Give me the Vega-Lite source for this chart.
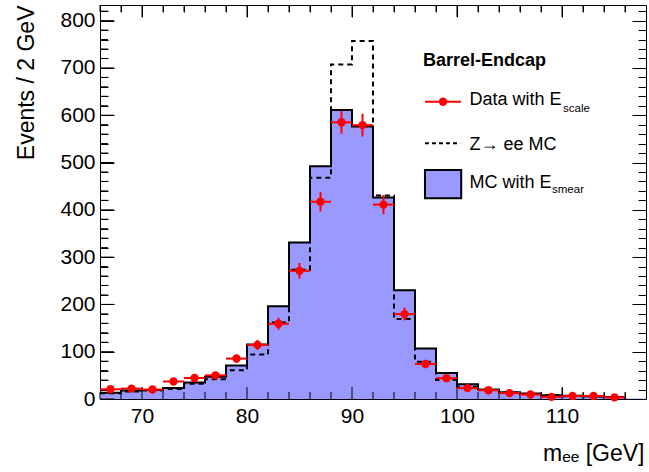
{
  "$schema": "https://vega.github.io/schema/vega-lite/v6.json",
  "autosize": {"type": "none"},
  "padding": {"left": 100, "top": 5, "right": 3, "bottom": 73},
  "width": 546,
  "height": 394,
  "background": "white",
  "data": {"values": [
    {"lo":66,"hi":68,"m":67,"mc":13,"zee":12,"data":20.5,"dlo":16,"dhi":25},
    {"lo":68,"hi":70,"m":69,"mc":18,"zee":16,"data":22,"dlo":17.3,"dhi":26.7},
    {"lo":70,"hi":72,"m":71,"mc":19,"zee":18,"data":20,"dlo":15.5,"dhi":24.5},
    {"lo":72,"hi":74,"m":73,"mc":23,"zee":21,"data":37,"dlo":30.9,"dhi":43.1},
    {"lo":74,"hi":76,"m":75,"mc":35,"zee":32,"data":44.5,"dlo":37.8,"dhi":51.2},
    {"lo":76,"hi":78,"m":77,"mc":47,"zee":42,"data":50,"dlo":42.9,"dhi":57.1},
    {"lo":78,"hi":80,"m":79,"mc":71,"zee":61,"data":85.5,"dlo":76.3,"dhi":94.7},
    {"lo":80,"hi":82,"m":81,"mc":115,"zee":94,"data":114.5,"dlo":103.8,"dhi":125.2},
    {"lo":82,"hi":84,"m":83,"mc":196,"zee":162,"data":159,"dlo":146.4,"dhi":171.6},
    {"lo":84,"hi":86,"m":85,"mc":331,"zee":273,"data":271,"dlo":254.5,"dhi":287.5},
    {"lo":86,"hi":88,"m":87,"mc":492,"zee":468,"data":417,"dlo":396.6,"dhi":437.4},
    {"lo":88,"hi":90,"m":89,"mc":611,"zee":707,"data":585,"dlo":560.8,"dhi":609.2},
    {"lo":90,"hi":92,"m":91,"mc":576,"zee":757,"data":579,"dlo":554.9,"dhi":603.1},
    {"lo":92,"hi":94,"m":93,"mc":426,"zee":430,"data":411,"dlo":390.7,"dhi":431.3},
    {"lo":94,"hi":96,"m":95,"mc":230,"zee":169,"data":179.5,"dlo":166.1,"dhi":192.9},
    {"lo":96,"hi":98,"m":97,"mc":107,"zee":79,"data":74,"dlo":65.4,"dhi":82.6},
    {"lo":98,"hi":100,"m":99,"mc":55,"zee":40,"data":44,"dlo":37.4,"dhi":50.6},
    {"lo":100,"hi":102,"m":101,"mc":31,"zee":26,"data":23,"dlo":18.2,"dhi":27.8},
    {"lo":102,"hi":104,"m":103,"mc":20,"zee":19,"data":18.5,"dlo":14.2,"dhi":22.8},
    {"lo":104,"hi":106,"m":105,"mc":14.5,"zee":13,"data":12.5,"dlo":9,"dhi":16},
    {"lo":106,"hi":108,"m":107,"mc":11.5,"zee":10.5,"data":9.5,"dlo":6.4,"dhi":12.6},
    {"lo":108,"hi":110,"m":109,"mc":8,"zee":8,"data":4.5,"dlo":2.4,"dhi":6.6},
    {"lo":110,"hi":112,"m":111,"mc":7,"zee":6,"data":6.5,"dlo":4,"dhi":9},
    {"lo":112,"hi":114,"m":113,"mc":6,"zee":5.5,"data":6.5,"dlo":4,"dhi":9},
    {"lo":114,"hi":116,"m":115,"mc":4,"zee":3.5,"data":3.5,"dlo":1.6,"dhi":5.4},
    {"lo":116,"hi":118,"m":117,"mc":1,"zee":0.5,"data":null,"dlo":null,"dhi":null}
  ]},
  "resolve": {"axis": {"x": "independent", "y": "independent"}},
  "layer": [
    {
      "mark": {"type": "rect", "fill": "#9999ff", "stroke": null},
      "encoding": {
        "x": {"field": "lo", "type": "quantitative",
          "scale": {"domain": [66, 118], "nice": false, "zero": false},
          "axis": {
            "orient": "bottom",
            "values": [70, 80, 90, 100, 110],
            "ticks": false,
            "tickSize": 0,
            "format": "d",
            "labelPadding": 6,
            "labelBaseline": "top",
            "labelFlush": false,
            "labelOverlap": false,
            "title": "mₑₑ [GeV]",
            "titleX": 544,
            "titleY": 61,
            "titleAlign": "right",
            "titleAnchor": "end",
            "titleBaseline": "alphabetic"
          }},
        "x2": {"field": "hi"},
        "y": {"field": "mc", "type": "quantitative",
          "scale": {"domain": [0, 833], "nice": false, "zero": true},
          "axis": {
            "orient": "left",
            "values": [0, 100, 200, 300, 400, 500, 600, 700, 800],
            "ticks": false,
            "tickSize": 0,
            "labelPadding": 5,
            "labelBaseline": "middle",
            "labelOverlap": false,
            "labelFlush": false,
            "title": "Events / 2 GeV",
            "titleX": -67,
            "titleY": 0,
            "titleAngle": -90,
            "titleAlign": "right",
            "titleAnchor": "end",
            "titleBaseline": "alphabetic"
          }},
        "y2": {"datum": 0}
      }
    },
    {
      "data": {"values": [{"v":0},{"v":100},{"v":200},{"v":300},{"v":400},{"v":500},{"v":600},{"v":700},{"v":800}]},
      "mark": {"type": "rule", "color": "black", "strokeWidth": 1},
      "encoding": {
        "y": {"field": "v", "type": "quantitative", "axis": null},
        "x": {"datum": 66, "type": "quantitative", "axis": null},
        "x2": {"datum": 67.33}
      }
    },
    {
      "data": {"values": [{"v":20},{"v":40},{"v":60},{"v":80},{"v":120},{"v":140},{"v":160},{"v":180},{"v":220},{"v":240},{"v":260},{"v":280},{"v":320},{"v":340},{"v":360},{"v":380},{"v":420},{"v":440},{"v":460},{"v":480},{"v":520},{"v":540},{"v":560},{"v":580},{"v":620},{"v":640},{"v":660},{"v":680},{"v":720},{"v":740},{"v":760},{"v":780},{"v":820}]},
      "mark": {"type": "rule", "color": "black", "strokeWidth": 1},
      "encoding": {
        "y": {"field": "v", "type": "quantitative", "axis": null},
        "x": {"datum": 66, "type": "quantitative", "axis": null},
        "x2": {"datum": 66.76}
      }
    },
    {
      "data": {"values": [{"v":70},{"v":80},{"v":90},{"v":100},{"v":110}]},
      "mark": {"type": "rule", "color": "black", "strokeWidth": 1},
      "encoding": {
        "x": {"field": "v", "type": "quantitative", "axis": null},
        "y": {"datum": 0, "type": "quantitative", "axis": null},
        "y2": {"datum": 25.4}
      }
    },
    {
      "data": {"values": [{"v":66},{"v":68},{"v":72},{"v":74},{"v":76},{"v":78},{"v":82},{"v":84},{"v":86},{"v":88},{"v":92},{"v":94},{"v":96},{"v":98},{"v":102},{"v":104},{"v":106},{"v":108},{"v":112},{"v":114},{"v":116}]},
      "mark": {"type": "rule", "color": "black", "strokeWidth": 1},
      "encoding": {
        "x": {"field": "v", "type": "quantitative", "axis": null},
        "y": {"datum": 0, "type": "quantitative", "axis": null},
        "y2": {"datum": 14.8}
      }
    },
    {
      "data": {"values": [{"v":70},{"v":80},{"v":90},{"v":100},{"v":110}]},
      "mark": {"type": "rule", "color": "black", "strokeWidth": 1},
      "encoding": {
        "x": {"field": "v", "type": "quantitative", "axis": null},
        "y": {"datum": 833, "type": "quantitative", "axis": null},
        "y2": {"datum": 807.6}
      }
    },
    {
      "data": {"values": [{"v":66},{"v":68},{"v":72},{"v":74},{"v":76},{"v":78},{"v":82},{"v":84},{"v":86},{"v":88},{"v":92},{"v":94},{"v":96},{"v":98},{"v":102},{"v":104},{"v":106},{"v":108},{"v":112},{"v":114},{"v":116}]},
      "mark": {"type": "rule", "color": "black", "strokeWidth": 1},
      "encoding": {
        "x": {"field": "v", "type": "quantitative", "axis": null},
        "y": {"datum": 833, "type": "quantitative", "axis": null},
        "y2": {"datum": 818.2}
      }
    },
    {
      "mark": {"type": "line", "interpolate": "step-after", "color": "black", "strokeWidth": 2, "strokeDash": [5, 4]},
      "encoding": {
        "x": {"field": "lo", "type": "quantitative",
          "axis": {
            "orient": "top",
            "ticks": false,
            "labels": false,
            "title": null
          }},
        "y": {"field": "zee", "type": "quantitative",
          "axis": {
            "orient": "right",
            "values": [0,20,40,60,80,100,120,140,160,180,200,220,240,260,280,300,320,340,360,380,400,420,440,460,480,500,520,540,560,580,600,620,640,660,680,700,720,740,760,780,800,820],
            "ticks": true,
            "tickSize": {"condition": {"test": "datum.value % 100 === 0", "value": -14}, "value": -8},
            "labels": false,
            "title": null
          }}
      }
    },
    {
      "mark": {"type": "line", "interpolate": "step-after", "color": "black", "strokeWidth": 2},
      "encoding": {
        "x": {"field": "lo", "type": "quantitative",
          "axis": {
            "orient": "top",
            "offset": -394,
            "domain": false,
            "values": [66,68,70,72,74,76,78,80,82,84,86,88,90,92,94,96,98,100,102,104,106,108,110,112,114,116],
            "ticks": true,
            "tickSize": {"condition": {"test": "datum.value % 10 === 0", "value": 12}, "value": 7},
            "labels": false,
            "title": null
          }},
        "y": {"field": "mc", "type": "quantitative",
          "axis": {
            "orient": "right",
            "offset": -546,
            "domain": false,
            "values": [0,20,40,60,80,100,120,140,160,180,200,220,240,260,280,300,320,340,360,380,400,420,440,460,480,500,520,540,560,580,600,620,640,660,680,700,720,740,760,780,800,820],
            "ticks": true,
            "tickSize": {"condition": {"test": "datum.value % 100 === 0", "value": 14}, "value": 8},
            "labels": false,
            "title": null
          }}
      }
    },
    {
      "mark": {"type": "rule", "color": "#ff0000", "strokeWidth": 2},
      "encoding": {
        "x": {"field": "lo", "type": "quantitative",
          "axis": {
            "orient": "bottom",
            "offset": -394,
            "domain": false,
            "values": [66,68,70,72,74,76,78,80,82,84,86,88,90,92,94,96,98,100,102,104,106,108,110,112,114,116],
            "ticks": true,
            "tickSize": {"condition": {"test": "datum.value % 10 === 0", "value": 12}, "value": 7},
            "labels": false,
            "title": null
          }},
        "x2": {"field": "hi"},
        "y": {"field": "data", "type": "quantitative", "axis": null}
      }
    },
    {
      "mark": {"type": "rule", "color": "#ff0000", "strokeWidth": 2},
      "encoding": {
        "x": {"field": "m", "type": "quantitative", "axis": null},
        "y": {"field": "dlo", "type": "quantitative", "axis": null},
        "y2": {"field": "dhi"}
      }
    },
    {
      "mark": {"type": "point", "filled": true, "shape": "circle", "color": "#ff0000", "size": 70, "opacity": 1},
      "encoding": {
        "x": {"field": "m", "type": "quantitative", "axis": null},
        "y": {"field": "data", "type": "quantitative", "axis": null}
      }
    },
    {
      "data": {"values": [{}]},
      "mark": {"type": "text", "text": "Barrel-Endcap", "font": "Liberation Sans", "fontWeight": "bold", "fontSize": 18, "align": "left", "baseline": "alphabetic", "color": "black"},
      "encoding": {
        "x": {"datum": 96.76, "type": "quantitative", "axis": null},
        "y": {"datum": 704, "type": "quantitative", "axis": null}
      }
    },
    {
      "data": {"values": [{}]},
      "mark": {"type": "rule", "color": "#ff0000", "strokeWidth": 2},
      "encoding": {
        "x": {"datum": 96.95, "type": "quantitative", "axis": null},
        "x2": {"datum": 100.38},
        "y": {"datum": 628.5, "type": "quantitative", "axis": null}
      }
    },
    {
      "data": {"values": [{}]},
      "mark": {"type": "point", "filled": true, "shape": "circle", "color": "#ff0000", "size": 70, "opacity": 1},
      "encoding": {
        "x": {"datum": 98.67, "type": "quantitative", "axis": null},
        "y": {"datum": 628.5, "type": "quantitative", "axis": null}
      }
    },
    {
      "data": {"values": [{}]},
      "mark": {"type": "text", "text": "Data with E", "font": "Liberation Sans", "fontWeight": "normal", "fontSize": 18, "align": "left", "baseline": "alphabetic", "color": "black"},
      "encoding": {
        "x": {"datum": 101.19, "type": "quantitative", "axis": null},
        "y": {"datum": 621.6, "type": "quantitative", "axis": null}
      }
    },
    {
      "data": {"values": [{}]},
      "mark": {"type": "text", "text": "scale", "font": "Liberation Sans", "fontWeight": "normal", "fontSize": 11.5, "align": "left", "baseline": "alphabetic", "color": "black"},
      "encoding": {
        "x": {"datum": 110.1, "type": "quantitative", "axis": null},
        "y": {"datum": 606.8, "type": "quantitative", "axis": null}
      }
    },
    {
      "data": {"values": [{}]},
      "mark": {"type": "rule", "color": "black", "strokeWidth": 2, "strokeDash": [4, 3]},
      "encoding": {
        "x": {"datum": 96.95, "type": "quantitative", "axis": null},
        "x2": {"datum": 100.3},
        "y": {"datum": 540.6, "type": "quantitative", "axis": null}
      }
    },
    {
      "data": {"values": [{}]},
      "mark": {"type": "text", "text": "Z→ ee MC", "font": "Liberation Sans", "fontWeight": "normal", "fontSize": 18, "align": "left", "baseline": "alphabetic", "color": "black"},
      "encoding": {
        "x": {"datum": 101.19, "type": "quantitative", "axis": null},
        "y": {"datum": 526.4, "type": "quantitative", "axis": null}
      }
    },
    {
      "data": {"values": [{}]},
      "mark": {"type": "rect", "fill": "#9999ff", "stroke": "black", "strokeWidth": 2},
      "encoding": {
        "x": {"datum": 96.95, "type": "quantitative", "axis": null},
        "x2": {"datum": 100.4},
        "y": {"datum": 484.1, "type": "quantitative", "axis": null},
        "y2": {"datum": 424.3}
      }
    },
    {
      "data": {"values": [{}]},
      "mark": {"type": "text", "text": "MC with E", "font": "Liberation Sans", "fontWeight": "normal", "fontSize": 18, "align": "left", "baseline": "alphabetic", "color": "black"},
      "encoding": {
        "x": {"datum": 101.19, "type": "quantitative", "axis": null},
        "y": {"datum": 446, "type": "quantitative", "axis": null}
      }
    },
    {
      "data": {"values": [{}]},
      "mark": {"type": "text", "text": "smear", "font": "Liberation Sans", "fontWeight": "normal", "fontSize": 11.5, "align": "left", "baseline": "alphabetic", "color": "black"},
      "encoding": {
        "x": {"datum": 109.05, "type": "quantitative", "axis": null},
        "y": {"datum": 434.5, "type": "quantitative", "axis": null}
      }
    }
  ],
  "config": {
    "view": {"stroke": null},
    "axis": {
      "grid": false,
      "domainColor": "black",
      "domainWidth": 1,
      "tickColor": "black",
      "tickWidth": 1,
      "labelColor": "black",
      "titleColor": "black",
      "labelFont": "Liberation Sans",
      "titleFont": "Liberation Sans, DejaVu Sans",
      "labelFontSize": 21,
      "titleFontSize": 23,
      "titleFontWeight": "normal"
    }
  }
}
